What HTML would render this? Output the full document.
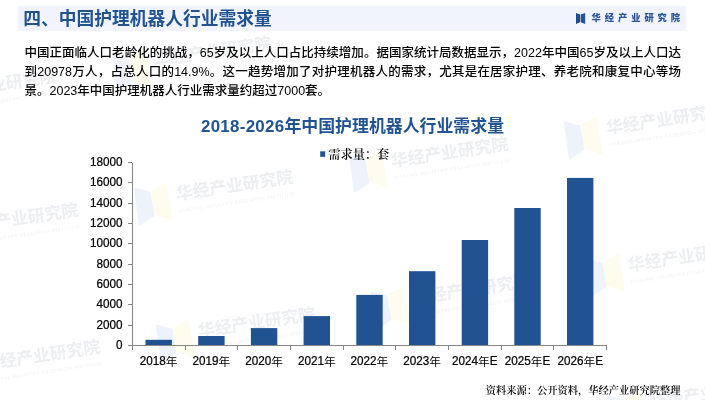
<!DOCTYPE html>
<html lang="zh-CN">
<head>
<meta charset="utf-8">
<title>四、中国护理机器人行业需求量</title>
<style>
html,body{margin:0;padding:0;background:#fff;}
body{width:705px;height:400px;position:relative;overflow:hidden;font-family:"Liberation Sans","Noto Sans CJK SC",sans-serif;}
.hdr{position:absolute;left:18px;top:6px;width:668px;height:25px;background:#f1f4fc;}
.ttl{position:absolute;left:23.3px;top:6.6px;height:25px;line-height:25px;font-size:17.75px;font-weight:bold;color:#215393;white-space:nowrap;}
.logo{position:absolute;left:576px;top:12.8px;}
.brand{position:absolute;left:591.6px;top:9px;height:18px;line-height:18px;font-size:9.3px;font-weight:900;color:#2a5597;letter-spacing:3.9px;white-space:nowrap;}
.para{position:absolute;left:24.5px;top:0;width:656.5px;font-size:12.5px;line-height:20px;color:#000;font-weight:500;}
.para div{position:absolute;left:0;width:656.5px;white-space:nowrap;}
.para .j{text-align:justify;text-align-last:justify;white-space:normal;}
.ct{position:absolute;left:0;top:115.3px;width:705px;text-align:center;font-size:16.9px;line-height:24px;font-weight:bold;color:#215393;white-space:nowrap;}
.chart{position:absolute;left:0;top:0;}
.chart text{font-family:"Liberation Sans","Noto Sans CJK SC",sans-serif;fill:#000;}
.chart .yl text{font-size:12.5px;stroke:#000;stroke-width:0.25px;}
.chart .xl text.d{font-size:12.5px;stroke:#000;stroke-width:0.25px;}
.chart .xl text.c{font-size:11.7px;}
.chart text.lg{font-family:"Liberation Serif","Noto Serif CJK SC",serif;font-weight:600;font-size:12.2px;}
.src{position:absolute;right:24.5px;top:382px;height:17px;line-height:17px;font-size:10.25px;font-weight:600;color:#000;white-space:nowrap;font-family:"Liberation Serif","Noto Serif CJK SC",serif;}
.wmk{position:absolute;left:0;top:0;}
.wmk text{font-family:"Liberation Sans","Noto Sans CJK SC",sans-serif;}
.wmk .wt{font-size:16.9px;font-weight:bold;fill:#edeef1;}
.wmk .we{font-size:4.9px;fill:#eff0f3;}
</style>
</head>
<body>
<svg class="wmk" width="705" height="400" viewBox="0 0 705 400">
<g transform="translate(-61.0 92.9) rotate(-8.5)"><path d="M-40.8 -12.3L-24.9 -5.7L-24.7 18.9L-41.4 26.8Z" fill="#edf2fb"/><path d="M-24 -6.8L-7.5 -12.6L-7 26.3L-24.5 17.7Z" fill="#fefcee"/><text class="wt" x="0" y="6.3">华经产业研究院</text><text class="we" x="0.5" y="19" textLength="117.5" lengthAdjust="spacing">HUAJING INDUSTRY RESEARCH INSTITUTE</text></g>
<g transform="translate(154.0 59.9) rotate(-8.5)"><path d="M-40.8 -12.3L-24.9 -5.7L-24.7 18.9L-41.4 26.8Z" fill="#edf2fb"/><path d="M-24 -6.8L-7.5 -12.6L-7 26.3L-24.5 17.7Z" fill="#fefcee"/><text class="wt" x="0" y="6.3">华经产业研究院</text><text class="we" x="0.5" y="19" textLength="117.5" lengthAdjust="spacing">HUAJING INDUSTRY RESEARCH INSTITUTE</text></g>
<g transform="translate(-39.0 226.7) rotate(-8.5)"><path d="M-40.8 -12.3L-24.9 -5.7L-24.7 18.9L-41.4 26.8Z" fill="#edf2fb"/><path d="M-24 -6.8L-7.5 -12.6L-7 26.3L-24.5 17.7Z" fill="#fefcee"/><text class="wt" x="0" y="6.3">华经产业研究院</text><text class="we" x="0.5" y="19" textLength="117.5" lengthAdjust="spacing">HUAJING INDUSTRY RESEARCH INSTITUTE</text></g>
<g transform="translate(176.0 193.7) rotate(-8.5)"><path d="M-40.8 -12.3L-24.9 -5.7L-24.7 18.9L-41.4 26.8Z" fill="#edf2fb"/><path d="M-24 -6.8L-7.5 -12.6L-7 26.3L-24.5 17.7Z" fill="#fefcee"/><text class="wt" x="0" y="6.3">华经产业研究院</text><text class="we" x="0.5" y="19" textLength="117.5" lengthAdjust="spacing">HUAJING INDUSTRY RESEARCH INSTITUTE</text></g>
<g transform="translate(391.0 160.7) rotate(-8.5)"><path d="M-40.8 -12.3L-24.9 -5.7L-24.7 18.9L-41.4 26.8Z" fill="#edf2fb"/><path d="M-24 -6.8L-7.5 -12.6L-7 26.3L-24.5 17.7Z" fill="#fefcee"/><text class="wt" x="0" y="6.3">华经产业研究院</text><text class="we" x="0.5" y="19" textLength="117.5" lengthAdjust="spacing">HUAJING INDUSTRY RESEARCH INSTITUTE</text></g>
<g transform="translate(606.0 127.7) rotate(-8.5)"><path d="M-40.8 -12.3L-24.9 -5.7L-24.7 18.9L-41.4 26.8Z" fill="#edf2fb"/><path d="M-24 -6.8L-7.5 -12.6L-7 26.3L-24.5 17.7Z" fill="#fefcee"/><text class="wt" x="0" y="6.3">华经产业研究院</text><text class="we" x="0.5" y="19" textLength="117.5" lengthAdjust="spacing">HUAJING INDUSTRY RESEARCH INSTITUTE</text></g>
<g transform="translate(-17.0 363.7) rotate(-8.5)"><path d="M-40.8 -12.3L-24.9 -5.7L-24.7 18.9L-41.4 26.8Z" fill="#edf2fb"/><path d="M-24 -6.8L-7.5 -12.6L-7 26.3L-24.5 17.7Z" fill="#fefcee"/><text class="wt" x="0" y="6.3">华经产业研究院</text><text class="we" x="0.5" y="19" textLength="117.5" lengthAdjust="spacing">HUAJING INDUSTRY RESEARCH INSTITUTE</text></g>
<g transform="translate(198.0 330.7) rotate(-8.5)"><path d="M-40.8 -12.3L-24.9 -5.7L-24.7 18.9L-41.4 26.8Z" fill="#edf2fb"/><path d="M-24 -6.8L-7.5 -12.6L-7 26.3L-24.5 17.7Z" fill="#fefcee"/><text class="wt" x="0" y="6.3">华经产业研究院</text><text class="we" x="0.5" y="19" textLength="117.5" lengthAdjust="spacing">HUAJING INDUSTRY RESEARCH INSTITUTE</text></g>
<g transform="translate(413.0 297.7) rotate(-8.5)"><path d="M-40.8 -12.3L-24.9 -5.7L-24.7 18.9L-41.4 26.8Z" fill="#edf2fb"/><path d="M-24 -6.8L-7.5 -12.6L-7 26.3L-24.5 17.7Z" fill="#fefcee"/><text class="wt" x="0" y="6.3">华经产业研究院</text><text class="we" x="0.5" y="19" textLength="117.5" lengthAdjust="spacing">HUAJING INDUSTRY RESEARCH INSTITUTE</text></g>
<g transform="translate(628.0 264.7) rotate(-8.5)"><path d="M-40.8 -12.3L-24.9 -5.7L-24.7 18.9L-41.4 26.8Z" fill="#edf2fb"/><path d="M-24 -6.8L-7.5 -12.6L-7 26.3L-24.5 17.7Z" fill="#fefcee"/><text class="wt" x="0" y="6.3">华经产业研究院</text><text class="we" x="0.5" y="19" textLength="117.5" lengthAdjust="spacing">HUAJING INDUSTRY RESEARCH INSTITUTE</text></g>
<g transform="translate(650.0 401.7) rotate(-8.5)"><path d="M-40.8 -12.3L-24.9 -5.7L-24.7 18.9L-41.4 26.8Z" fill="#edf2fb"/><path d="M-24 -6.8L-7.5 -12.6L-7 26.3L-24.5 17.7Z" fill="#fefcee"/><text class="wt" x="0" y="6.3">华经产业研究院</text><text class="we" x="0.5" y="19" textLength="117.5" lengthAdjust="spacing">HUAJING INDUSTRY RESEARCH INSTITUTE</text></g>
</svg>
<div class="hdr"></div>
<div class="ttl">四、中国护理机器人行业需求量</div>
<svg class="logo" width="10" height="12" viewBox="0 0 10 12"><path d="M0 0L4.1 1.5V9.2L0 10.9Z" fill="#1f4e8f"/><path d="M4.7 1.5L9.2 0V10.9L4.7 9.2Z" fill="#245596"/></svg>
<div class="brand">华经产业研究院</div>
<div class="para">
<div class="j" style="top:42.5px">中国正面临人口老龄化的挑战，65岁及以上人口占比持续增加。据国家统计局数据显示，2022年中国65岁及以上人口达</div>
<div class="j" style="top:61.7px">到20978万人，占总人口的14.9%。这一趋势增加了对护理机器人的需求，尤其是在居家护理、养老院和康复中心等场</div>
<div style="top:80.9px">景。2023年中国护理机器人行业需求量约超过7000套。</div>
</div>
<div class="ct"><span style="letter-spacing:0.3px">2018-2026</span>年中国护理机器人行业需求量</div>
<svg class="chart" width="705" height="400" viewBox="0 0 705 400">
<rect x="145.5" y="339.8" width="26.4" height="5.6" fill="#215393"/>
<rect x="198.2" y="336.0" width="26.4" height="9.4" fill="#215393"/>
<rect x="250.9" y="328.1" width="26.4" height="17.3" fill="#215393"/>
<rect x="303.6" y="316.1" width="26.4" height="29.3" fill="#215393"/>
<rect x="356.3" y="294.9" width="26.4" height="50.5" fill="#215393"/>
<rect x="409.0" y="271.2" width="26.4" height="74.2" fill="#215393"/>
<rect x="461.7" y="240.0" width="26.4" height="105.4" fill="#215393"/>
<rect x="514.3" y="208.0" width="26.4" height="137.4" fill="#215393"/>
<rect x="567.0" y="177.9" width="26.4" height="167.5" fill="#215393"/>
<g stroke="#868686" stroke-width="1" fill="none" shape-rendering="crispEdges">
<path d="M132.3 162.5V345.4H606.6"/>
<path d="M128.3 345.4H132.3"/>
<path d="M128.3 325.1H132.3"/>
<path d="M128.3 304.8H132.3"/>
<path d="M128.3 284.4H132.3"/>
<path d="M128.3 264.1H132.3"/>
<path d="M128.3 243.8H132.3"/>
<path d="M128.3 223.5H132.3"/>
<path d="M128.3 203.1H132.3"/>
<path d="M128.3 182.8H132.3"/>
<path d="M128.3 162.5H132.3"/>
<path d="M132.3 345.4V349.5"/>
<path d="M185.0 345.4V349.5"/>
<path d="M237.7 345.4V349.5"/>
<path d="M290.4 345.4V349.5"/>
<path d="M343.1 345.4V349.5"/>
<path d="M395.8 345.4V349.5"/>
<path d="M448.5 345.4V349.5"/>
<path d="M501.2 345.4V349.5"/>
<path d="M553.9 345.4V349.5"/>
<path d="M606.6 345.4V349.5"/>
</g>
<g class="yl" text-anchor="end">
<text transform="translate(122.4 348.95) scale(0.936 1)">0</text>
<text transform="translate(122.4 328.63) scale(0.936 1)">2000</text>
<text transform="translate(122.4 308.31) scale(0.936 1)">4000</text>
<text transform="translate(122.4 287.98) scale(0.936 1)">6000</text>
<text transform="translate(122.4 267.66) scale(0.936 1)">8000</text>
<text transform="translate(122.4 247.34) scale(0.936 1)">10000</text>
<text transform="translate(122.4 227.02) scale(0.936 1)">12000</text>
<text transform="translate(122.4 206.69) scale(0.936 1)">14000</text>
<text transform="translate(122.4 186.37) scale(0.936 1)">16000</text>
<text transform="translate(122.4 166.05) scale(0.936 1)">18000</text>
</g>
<g class="xl">
<text class="d" transform="translate(139.80 365) scale(0.936 1)">2018</text><text class="c" x="165.80" y="365.5">年</text>
<text class="d" transform="translate(192.50 365) scale(0.936 1)">2019</text><text class="c" x="218.50" y="365.5">年</text>
<text class="d" transform="translate(245.20 365) scale(0.936 1)">2020</text><text class="c" x="271.20" y="365.5">年</text>
<text class="d" transform="translate(297.90 365) scale(0.936 1)">2021</text><text class="c" x="323.90" y="365.5">年</text>
<text class="d" transform="translate(350.60 365) scale(0.936 1)">2022</text><text class="c" x="376.60" y="365.5">年</text>
<text class="d" transform="translate(403.30 365) scale(0.936 1)">2023</text><text class="c" x="429.30" y="365.5">年</text>
<text class="d" transform="translate(452.10 365) scale(0.936 1)">2024</text><text class="c" x="478.10" y="365.5">年</text>
<text class="d" transform="translate(489.80 365) scale(0.936 1)">E</text>
<text class="d" transform="translate(504.80 365) scale(0.936 1)">2025</text><text class="c" x="530.80" y="365.5">年</text>
<text class="d" transform="translate(542.50 365) scale(0.936 1)">E</text>
<text class="d" transform="translate(557.50 365) scale(0.936 1)">2026</text><text class="c" x="583.50" y="365.5">年</text>
<text class="d" transform="translate(595.20 365) scale(0.936 1)">E</text>
</g>
<rect x="320.2" y="151.3" width="5" height="5.5" fill="#215393"/>
<text class="lg" x="328.3" y="158.6">需求量：套</text>
</svg>
<div class="src">资料来源：公开资料，华经产业研究院整理</div>
</body>
</html>
